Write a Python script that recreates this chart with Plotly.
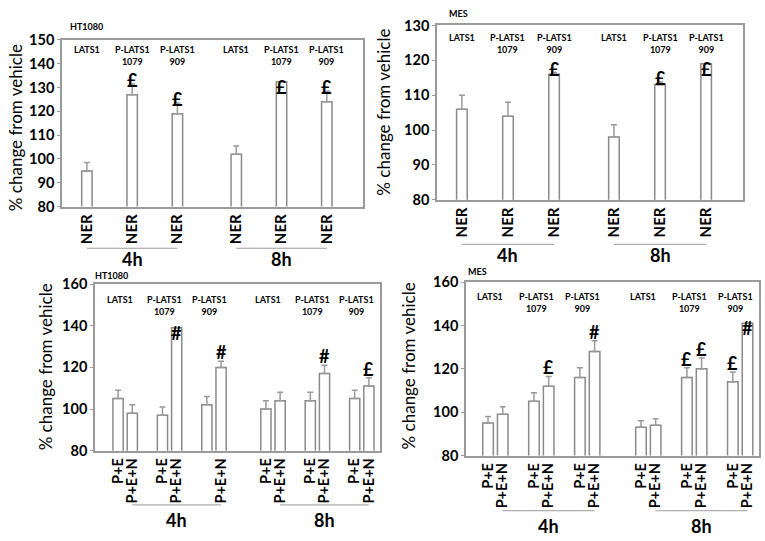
import plotly.graph_objects as go

# ---- data ----
proteins = ["LATS1", "P-LATS1<br>1079", "P-LATS1<br>909"]
times = ["4h", "8h"]
treatments = ["P+E", "P+E+N"]

# top row: NER, order = 4h (LATS1, 1079, 909), 8h (LATS1, 1079, 909)
ht1080_ner = [95, 127, 119, 102, 132.5, 124]
ht1080_ner_err = [3.5, 4.5, 4.5, 3.5, 0, 4.5]
ht1080_ner_sig = ["", "£", "£", "", "£", "£"]

mes_ner = [106, 104, 116, 98, 113, 119]
mes_ner_err = [4, 4, 0.5, 3.5, 0.8, 0]
mes_ner_sig = ["", "", "£", "", "£", "£"]

# bottom row: P+E and P+E+N, same order
ht1080_pe = [105, 97, 102, 100, 104, 105]
ht1080_pe_err = [4, 4, 4, 4, 4, 4]
ht1080_pe_sig = ["", "", "", "", "", ""]
ht1080_pen = [98, 139, 120, 104, 117, 111]
ht1080_pen_err = [4, 0, 3, 4, 4, 4]
ht1080_pen_sig = ["", "#", "#", "", "#", "£"]

mes_pe = [95, 105, 116, 93, 116, 114]
mes_pe_err = [3, 4, 4.5, 3, 4.5, 4.5]
mes_pe_sig = ["", "", "", "", "£", "£"]
mes_pen = [99, 112, 128, 94, 120, 141]
mes_pen_err = [3.5, 4.5, 5, 3, 5, 0]
mes_pen_sig = ["", "£", "#", "", "£", "#"]

W, H = 765, 541
FONT = "Lato"
GRAY = "#9a9a9a"
BAR_LINE = "#8a8a8a"


def px(v):
    return v / W


def py(v):
    return 1 - v / H


fig = go.Figure()
annotations = []
shapes = []


def add_bars(xname, yname, xs, vals, errs, sigs, lift):
    fig.add_trace(go.Bar(
        x=xs, y=vals, width=0.23,
        marker=dict(color="white", line=dict(color=BAR_LINE, width=1.5)),
        error_y=dict(type="data", array=errs, arrayminus=[0] * len(errs), symmetric=False,
                     color=GRAY, thickness=1.5, width=3),
        xaxis=xname, yaxis=yname, showlegend=False, hoverinfo="y",
    ))
    for x, v, e, s in zip(xs, vals, errs, sigs):
        if not s:
            continue
        # symbol centred a little above the error cap (or over the bar top when no error bar)
        shift = -5 if e == 0 else lift
        annotations.append(dict(x=x, y=v + e, xref=xname, yref=yname, text="<b>%s</b>" % s,
                                showarrow=False, yanchor="middle", yshift=shift,
                                font=dict(family=FONT, size=18, color="black")))


def panel_common(n, dom_x, dom_y, xr, yr, tickvals, ticktext, tick_size):
    xa = "xaxis" if n == 1 else "xaxis%d" % n
    ya = "yaxis" if n == 1 else "yaxis%d" % n
    fig.update_layout(**{
        xa: dict(domain=[px(dom_x[0]), px(dom_x[1])], range=xr, anchor="y" if n == 1 else "y%d" % n,
                 tickvals=tickvals, ticktext=ticktext, tickangle=-90,
                 tickfont=dict(family=FONT, size=tick_size, color="black", weight="bold"),
                 showline=True, mirror=True, linecolor=GRAY, linewidth=1.5,
                 showgrid=False, zeroline=False, ticks=""),
        ya: dict(domain=[py(dom_y[1]), py(dom_y[0])], range=yr, anchor="x" if n == 1 else "x%d" % n,
                 dtick=10 if yr[1] - yr[0] <= 70 else 20,
                 tickfont=dict(family=FONT, size=14.5, color="black", weight="bold"),
                 showline=True, mirror=True, linecolor=GRAY, linewidth=1.5,
                 ticks="outside", ticklen=3, tickcolor=GRAY,
                 showgrid=False, zeroline=False),
    })


def group_labels(xname, starts, ends, line_y, text_y):
    for t, a, b in zip(times, starts, ends):
        shapes.append(dict(type="line", xref=xname, yref="paper", x0=a, x1=b,
                           y0=py(line_y), y1=py(line_y), line=dict(color=GRAY, width=1)))
        annotations.append(dict(x=(a + b) / 2, y=py(text_y), xref=xname, yref="paper",
                                text="<b>%s</b>" % t, showarrow=False, yanchor="top",
                                font=dict(family=FONT, size=18, color="black")))


def protein_labels(xname, yname, xs, ydom):
    for i, x in enumerate(xs):
        annotations.append(dict(x=x, y=ydom, xref=xname, yref=yname + " domain",
                                text="<b>%s</b>" % proteins[i % 3], showarrow=False,
                                yanchor="top", align="center",
                                font=dict(family=FONT, size=9, color="black")))


# ---- top row: NER ----
top_x = [t * 3.3 + p for t in range(len(times)) for p in range(len(proteins))]

add_bars("x", "y", top_x, ht1080_ner, ht1080_ner_err, ht1080_ner_sig, 4)
panel_common(1, (62, 363), (32, 204), [-0.55, 6.1], [80, 150], top_x, ["NER"] * 6, 15)
protein_labels("x", "y", top_x, 0.985)
group_labels("x", [top_x[0], top_x[3]], [top_x[2], top_x[5]], 247, 245)

add_bars("x2", "y2", top_x, mes_ner, mes_ner_err, mes_ner_sig, 4)
panel_common(2, (437, 743), (17, 197), [-0.54, 6.1], [80, 130], top_x, ["NER"] * 6, 15)
protein_labels("x2", "y2", top_x, 0.975)
group_labels("x2", [top_x[0], top_x[3]], [top_x[2], top_x[5]], 243, 241)

# ---- bottom row: P+E / P+E+N ----
pe_x = [t * 3.33 + p for t in range(len(times)) for p in range(len(proteins))]
pen_x = [x + 0.32 for x in pe_x]
bot_ticks = [v for pair in zip(pe_x, pen_x) for v in pair]
bot_text = [v for pair in zip([treatments[0]] * 6, [treatments[1]] * 6) for v in pair]
ht_text = list(bot_text)
ht_text[4] = ""  # P+E label missing under 4h / 909 in the original

add_bars("x3", "y3", pe_x, ht1080_pe, ht1080_pe_err, ht1080_pe_sig, 9)
add_bars("x3", "y3", pen_x, ht1080_pen, ht1080_pen_err, ht1080_pen_sig, 9)
panel_common(3, (95, 380), (284, 456), [-0.52, 5.9], [80, 160], bot_ticks, ht_text, 14.5)
protein_labels("x3", "y3", [x + 0.05 for x in pe_x], 0.95)
group_labels("x3", [pen_x[0], pen_x[3]], [pen_x[2], pen_x[5]], 512, 514)

add_bars("x4", "y4", pe_x, mes_pe, mes_pe_err, mes_pe_sig, 9)
add_bars("x4", "y4", pen_x, mes_pen, mes_pen_err, mes_pen_sig, 9)
panel_common(4, (466, 759), (282, 461), [-0.48, 5.9], [80, 160], bot_ticks, bot_text, 14.5)
protein_labels("x4", "y4", [x + 0.05 for x in pe_x], 0.96)
group_labels("x4", [pen_x[0], pen_x[3]], [pen_x[2], pen_x[5]], 518, 520)

# ---- y titles and cell-line tags ----
for x, y in [(15, 123), (384, 107), (45, 370), (408, 369)]:
    annotations.append(dict(x=px(x), y=py(y), xref="paper", yref="paper", text="% change from vehicle",
                            textangle=-90, showarrow=False, xanchor="center", yanchor="middle",
                            font=dict(family=FONT, size=17, color="black")))

for name, x, y in [("HT1080", 68, 18), ("MES", 447, 5), ("HT1080", 93, 275), ("MES", 466, 271)]:
    annotations.append(dict(x=px(x), y=py(y), xref="paper", yref="paper", text="<b>%s</b>" % name,
                            showarrow=False, xanchor="left", yanchor="middle",
                            font=dict(family=FONT, size=9, color="black")))

fig.update_layout(
    width=W, height=H,
    margin=dict(l=0, r=0, t=0, b=0),
    paper_bgcolor="white", plot_bgcolor="white",
    barmode="overlay",
    annotations=annotations, shapes=shapes,
)

# the page body has a default margin; drop it so the figure fills the window exactly
fig.write_html("out.html", config={"displayModeBar": False},
               post_script="document.body.style.margin='0';")
